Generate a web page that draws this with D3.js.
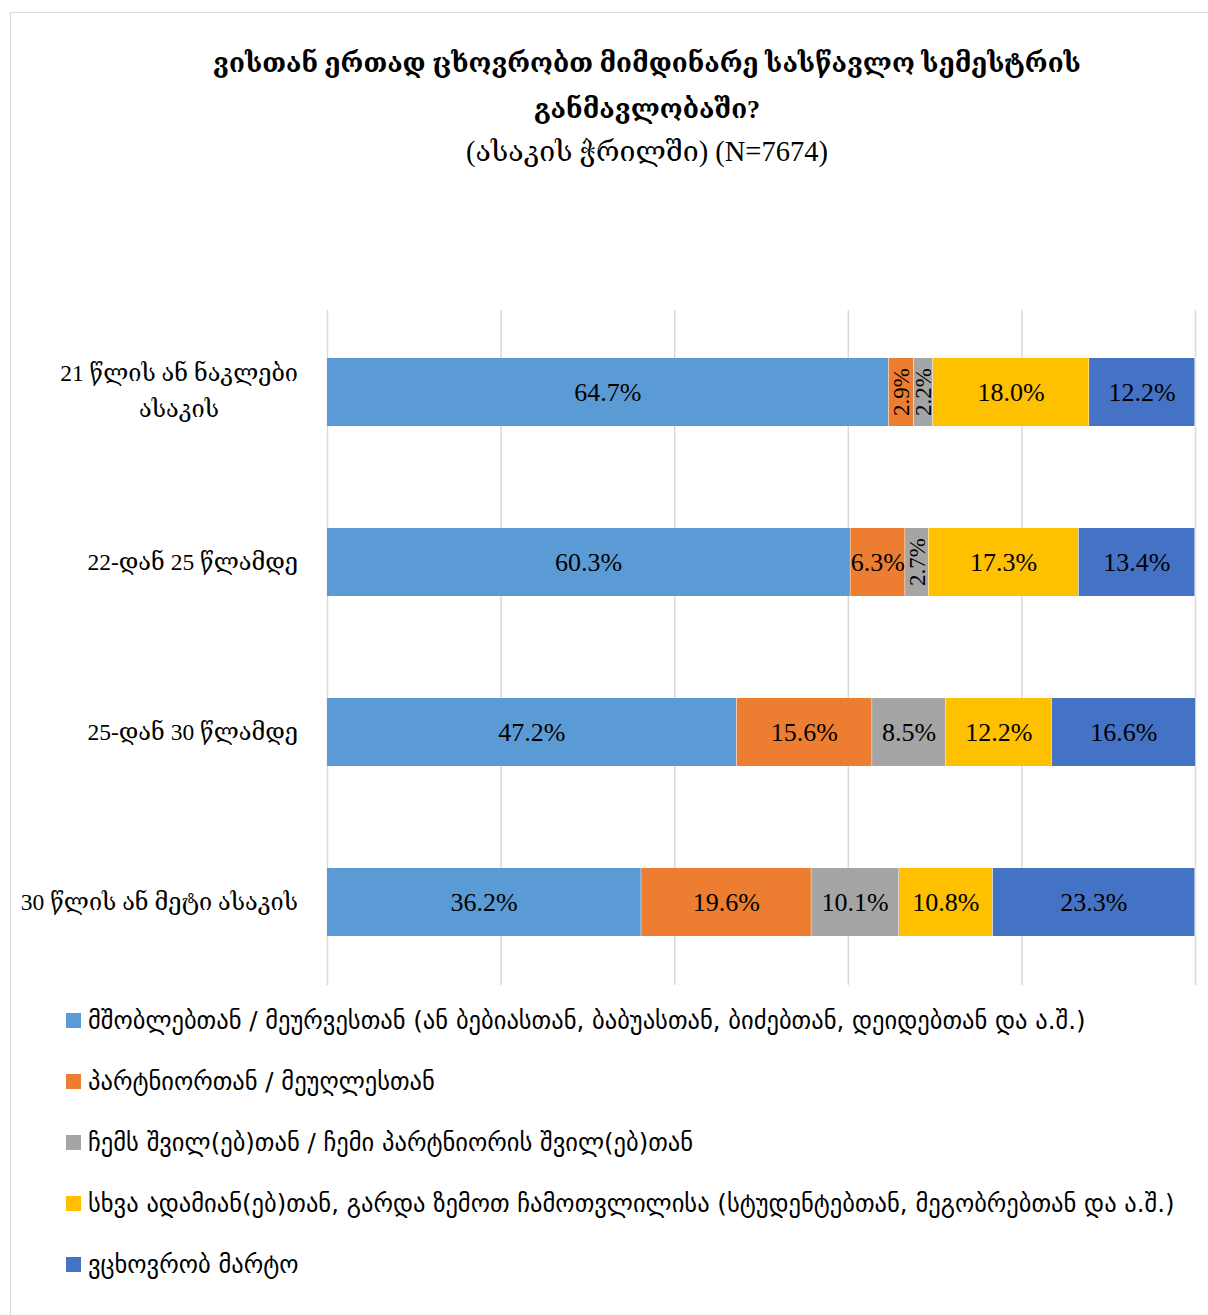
<!DOCTYPE html>
<html><head><meta charset="utf-8">
<script src="https://cdn.jsdelivr.net/npm/d3@7"></script>
<style>body{margin:0;background:#fff}</style>
</head><body>
<svg id="c" width="1208" height="1315"></svg>
<script>
const categories = ["21 წლის ან ნაკლები ასაკის", "22-დან 25 წლამდე", "25-დან 30 წლამდე", "30 წლის ან მეტი ასაკის"];
const seriesNames = [
  "მშობლებთან / მეურვესთან (ან ბებიასთან, ბაბუასთან, ბიძებთან, დეიდებთან და ა.შ.)",
  "პარტნიორთან / მეუღლესთან",
  "ჩემს შვილ(ებ)თან / ჩემი პარტნიორის შვილ(ებ)თან",
  "სხვა ადამიან(ებ)თან, გარდა ზემოთ ჩამოთვლილისა (სტუდენტებთან, მეგობრებთან და ა.შ.)",
  "ვცხოვრობ მარტო"
];
const parents = [64.7, 60.3, 47.2, 36.2];
const partner = [2.9, 6.3, 15.6, 19.6];
const children = [2.2, 2.7, 8.5, 10.1];
const others = [18.0, 17.3, 12.2, 10.8];
const alone = [12.2, 13.4, 16.6, 23.3];
const colors = ["#5B9BD5", "#ED7D31", "#A5A5A5", "#FFC000", "#4472C4"];
const xTicks = [0, 20, 40, 60, 80, 100];

const series = [parents, partner, children, others, alone];
const svg = d3.select("#c");
const serif = "'Liberation Serif','DejaVu Serif',serif";
const sans = "'DejaVu Sans','Noto Sans',sans-serif";

svg.append("rect").attr("x", 10.5).attr("y", 12.5).attr("width", 1210).attr("height", 1320)
  .attr("fill", "#fff").attr("stroke", "#d9d9d9");

// Title
const t = svg.append("g").attr("text-anchor", "middle").attr("font-family", serif).attr("fill", "#000");
t.append("text").attr("x", 647).attr("y", 72).attr("font-size", 26).attr("font-weight", "bold")
  .text("ვისთან ერთად ცხოვრობთ მიმდინარე სასწავლო სემესტრის");
t.append("text").attr("x", 647).attr("y", 118).attr("font-size", 26).attr("font-weight", "bold")
  .text("განმავლობაში?");
t.append("text").attr("x", 647).attr("y", 161).attr("font-size", 28.5)
  .text("(ასაკის ჭრილში) (N=7674)");

const x = d3.scaleLinear().domain([0, 100]).range([327, 1195]);
const y = d3.scaleBand().domain(categories).range([307, 987]).paddingInner(0.6).paddingOuter(0.3);

// gridlines
svg.append("g").selectAll("line").data(xTicks).join("line")
  .attr("x1", d => x(d) + 0.5).attr("x2", d => x(d) + 0.5)
  .attr("y1", 310).attr("y2", 985)
  .attr("stroke", "#d9d9d9").attr("stroke-width", 1.5);

const stackData = categories.map((c, i) => {
  const o = {cat: c};
  series.forEach((s, j) => o["s" + j] = s[i]);
  return o;
});
const keys = series.map((s, j) => "s" + j);
const stacked = d3.stack().keys(keys)(stackData);

const g = svg.append("g");
stacked.forEach((layer, j) => {
  const lg = g.append("g");
  lg.selectAll("rect").data(layer).join("rect")
    .attr("x", d => x(d[0])).attr("width", d => x(d[1]) - x(d[0]))
    .attr("y", d => y(d.data.cat)).attr("height", y.bandwidth())
    .attr("fill", colors[j]);
  lg.selectAll("line").data(layer).join("line")
    .attr("x1", d => x(d[1])).attr("x2", d => x(d[1]))
    .attr("y1", d => y(d.data.cat)).attr("y2", d => y(d.data.cat) + y.bandwidth())
    .attr("stroke", "#fff").attr("stroke-width", 1);
  lg.selectAll("text").data(layer).join("text")
    .attr("font-family", serif).attr("fill", "#000")
    .attr("font-size", d => (d[1] - d[0]) < 4 ? 23 : 26)
    .attr("text-anchor", "middle")
    .attr("transform", d => {
      const cx = (x(d[0]) + x(d[1])) / 2, cy = y(d.data.cat) + y.bandwidth() / 2;
      const v = d[1] - d[0];
      return v < 4 ? `translate(${cx + 8},${cy}) rotate(-90)` : `translate(${cx},${cy + 9})`;
    })
    .text(d => (d[1] - d[0]).toFixed(1) + "%");
});

// category labels
const cl = svg.append("g").attr("font-family", serif).attr("font-size", 23.5).attr("fill", "#000");
categories.forEach((c, i) => {
  const cy = y(c) + y.bandwidth() / 2;
  if (i === 0) {
    const t1 = cl.append("text").attr("x", 298).attr("y", cy - 11).attr("text-anchor", "end").text("21 წლის ან ნაკლები");
    const w = t1.node().getComputedTextLength();
    cl.append("text").attr("x", 298 - w / 2).attr("y", cy + 25).attr("text-anchor", "middle").text("ასაკის");
  } else {
    cl.append("text").attr("x", 298).attr("y", cy + 8).attr("text-anchor", "end").text(c);
  }
});

// legend
const leg = svg.append("g").attr("font-family", sans).attr("font-size", 24.5).attr("fill", "#000");
seriesNames.forEach((n, i) => {
  const ly = 1021 + i * 61;
  leg.append("rect").attr("x", 66).attr("y", ly - 8).attr("width", 15).attr("height", 15).attr("fill", colors[i]);
  leg.append("text").attr("x", 88).attr("y", ly + 8).text(n);
});
</script>
</body></html>
